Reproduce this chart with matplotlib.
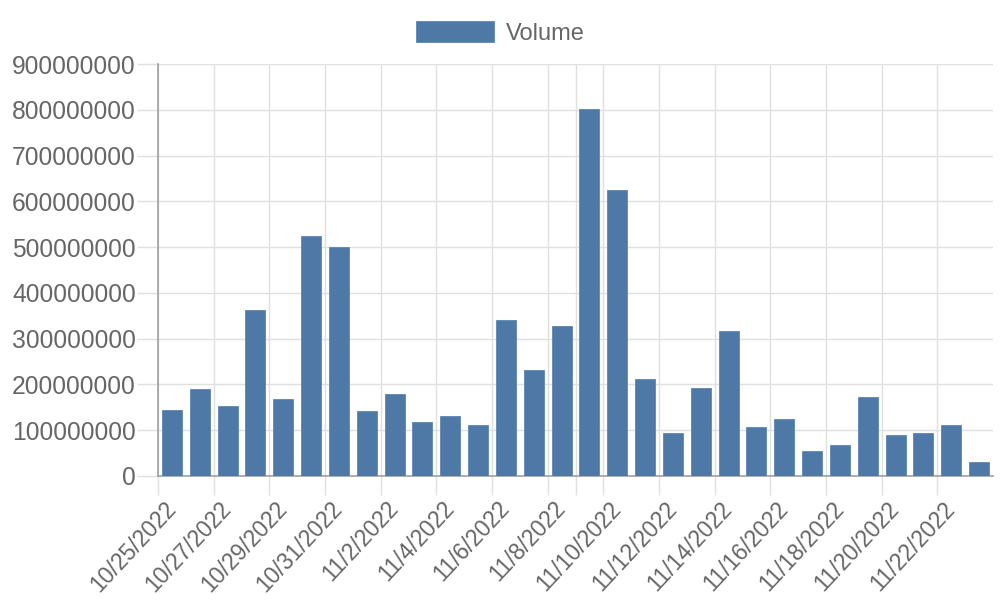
import numpy as np
import matplotlib.pyplot as plt
from matplotlib.ticker import FixedLocator, FuncFormatter

# daily trading volume
dates = ['10/25/2022', '10/26/2022', '10/27/2022', '10/28/2022', '10/29/2022',
         '10/30/2022', '10/31/2022', '11/1/2022', '11/2/2022', '11/3/2022',
         '11/4/2022', '11/5/2022', '11/6/2022', '11/7/2022', '11/8/2022',
         '11/9/2022', '11/10/2022', '11/11/2022', '11/12/2022', '11/13/2022',
         '11/14/2022', '11/15/2022', '11/16/2022', '11/17/2022', '11/18/2022',
         '11/19/2022', '11/20/2022', '11/21/2022', '11/22/2022', '11/23/2022']
volume = [144e6, 190e6, 153e6, 363e6, 169e6, 525e6, 501e6, 141e6, 179e6, 118e6,
          131e6, 110e6, 341e6, 231e6, 328e6, 803e6, 624e6, 211e6, 94e6, 192e6,
          316e6, 107e6, 124e6, 54e6, 67e6, 173e6, 89e6, 94e6, 110e6, 31e6]
yticks = list(range(0, 900000001, 100000000))

text_col = '#666666'
grid_col = '#e0e0e0'
axis_col = '#a0a0a0'
bar_col = '#4e79a7'

plt.rcParams['font.family'] = ['Liberation Sans', 'DejaVu Sans']

fig = plt.figure(figsize=(10, 6), dpi=100)
ax = fig.add_axes([0.158, 0.207, 0.835, 0.686])

x = np.arange(len(dates))
ax.bar(x, volume, width=0.72, color=bar_col, edgecolor='#5b86b3', linewidth=0.6,
       label='Volume', zorder=3)

ax.set_xlim(-0.5, len(dates) - 0.5)
ax.set_ylim(0, 900000000)

# labels every other day, grid lines on the category boundaries
lab_pos = x[::2]
ax.xaxis.set_major_locator(FixedLocator(lab_pos))
ax.set_xticklabels([dates[i] for i in lab_pos], rotation=47, ha='right',
                   va='center', rotation_mode='anchor')
bounds = sorted(set(list(lab_pos - 0.5) + [14.5]))
ax.xaxis.set_minor_locator(FixedLocator(bounds))
ax.tick_params(axis='x', which='major', length=0, pad=21, labelsize=16.5,
               labelcolor=text_col)
ax.tick_params(axis='x', which='minor', length=14, color=grid_col, width=1)
ax.grid(axis='x', which='minor', color=grid_col, linewidth=1, zorder=0)

ax.set_yticks(yticks)
ax.yaxis.set_major_formatter(FuncFormatter(lambda v, p: '%d' % v))
ax.tick_params(axis='y', length=15, color=grid_col, width=1, pad=1,
               labelsize=17.7, labelcolor=text_col)
ax.grid(axis='y', color=grid_col, linewidth=1, zorder=0)

for s in ['top', 'right']:
    ax.spines[s].set_visible(False)
for s in ['left', 'bottom']:
    ax.spines[s].set_color(axis_col)
    ax.spines[s].set_linewidth(1.2)

fig.legend(loc='upper center', bbox_to_anchor=(0.5, 1.0), frameon=False,
           fontsize=17, labelcolor=text_col, handlelength=3.3, handleheight=1.0,
           handletextpad=0.5)

fig.savefig('out.png', dpi=100)
